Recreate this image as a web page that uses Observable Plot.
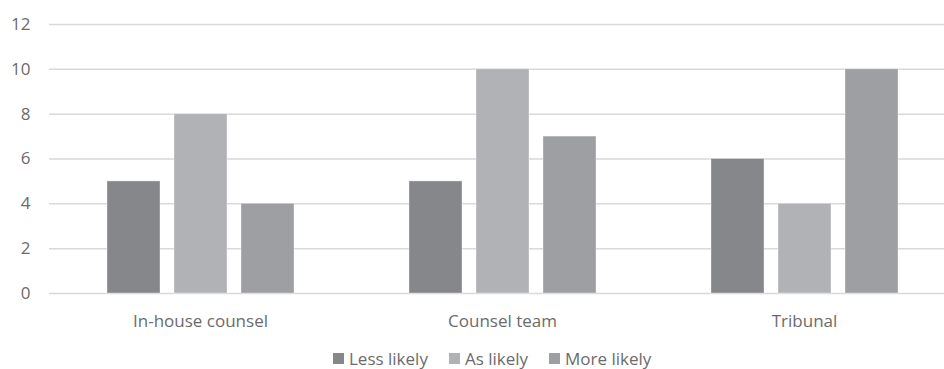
<!DOCTYPE html>
<html><head><meta charset="utf-8">
<script src="https://cdn.jsdelivr.net/npm/d3@7"></script>
<script src="https://cdn.jsdelivr.net/npm/@observablehq/plot@0.6"></script>
<style>
html,body{margin:0;padding:0;overflow:hidden;background:#fff;width:944px;height:369px;}
#chart svg{display:block;max-width:none !important;}
#legend{position:absolute;top:350px;left:333px;display:flex;align-items:center;font:17px/17px "Open Sans",sans-serif;color:#6b6b6b;white-space:nowrap;}
#legend .item{display:flex;align-items:center;margin-right:21px;}
#legend .sw{width:11px;height:11px;margin-right:5px;}
</style></head><body><div id="chart"></div><div id="legend"></div>
<script>
const categories = ["In-house counsel", "Counsel team", "Tribunal"];
const series = ["Less likely", "As likely", "More likely"];
const lessLikely = [5, 5, 6];
const asLikely = [8, 10, 4];
const moreLikely = [4, 7, 10];
const colors = ["#86878b", "#b1b2b5", "#9e9fa3"];
const yTicks = [0, 2, 4, 6, 8, 10, 12];

const valuesBySeries = [lessLikely, asLikely, moreLikely];
const data = [];
categories.forEach((c, i) => {
  series.forEach((s, j) => data.push({category: c, series: s, value: valuesBySeries[j][i]}));
});

const chart = Plot.plot({
  width: 955,
  height: 340,
  marginLeft: 49,
  marginRight: 0,
  marginTop: 24,
  marginBottom: 47,
  style: {fontSize: "17px", fontFamily: "'Open Sans', sans-serif", color: "#6b6b6b", background: "#fff", maxWidth: "none"},
  fx: {domain: categories, padding: 0, label: null, tickSize: 0, tickPadding: 21, axis: "bottom"},
  x: {domain: series, axis: null, paddingInner: 0.209, paddingOuter: 0.858},
  y: {domain: [0, 12], ticks: yTicks, tickSize: 0, tickPadding: 19, label: null},
  color: {domain: series, range: colors},
  marks: [
    Plot.ruleY(yTicks, {stroke: "#d9d9d9", strokeWidth: 1.5}),
    Plot.barY(data, {fx: "category", x: "series", y: "value", fill: "series", stroke: "#ffffff", strokeOpacity: 0.35, strokeWidth: 1})
  ]
});
document.getElementById("chart").appendChild(chart);

const legend = d3.select("#legend");
series.forEach((s, i) => {
  const it = legend.append("div").attr("class", "item");
  it.append("div").attr("class", "sw").style("background", colors[i]);
  it.append("span").text(s);
});
</script>
</body></html>
